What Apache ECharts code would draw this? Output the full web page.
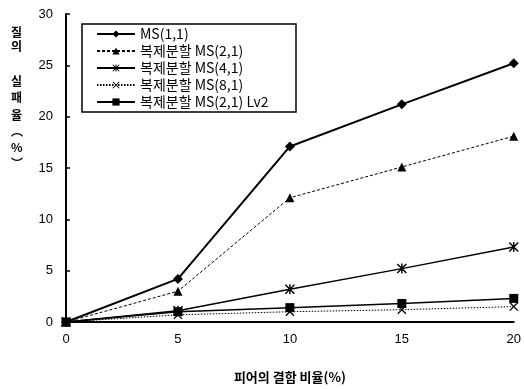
<!DOCTYPE html>
<html>
<head>
<meta charset="utf-8">
<script src="https://cdn.jsdelivr.net/npm/echarts@6/dist/echarts.min.js"></script>
<style>
html,body{margin:0;padding:0;background:#fff;}
#c{width:524px;height:389px;}
</style>
</head>
<body>
<div id="c"></div>
<script>
// ---- data ----
var xValues = [0, 5, 10, 15, 20];
var seriesNames = ['MS(1,1)', '복제분할 MS(2,1)', '복제분할 MS(4,1)', '복제분할 MS(8,1)', '복제분할 MS(2,1) Lv2'];
var ms11 = [0, 4.2, 17.1, 21.2, 25.2];
var ms21 = [0, 3.0, 12.1, 15.1, 18.1];
var ms41 = [0, 1.1, 3.2, 5.2, 7.3];
var ms81 = [0, 0.7, 1.0, 1.2, 1.5];
var ms21lv2 = [0, 1.0, 1.4, 1.8, 2.3];
var yTicks = [0, 5, 10, 15, 20, 25, 30];
var xTitle = '피어의 결함 비율(%)';
var yTitleChars = ['질', '의', '실', '패', '율', '︵', '%', '︶'];

// ---- build ----
function pairs(vals) { return xValues.map(function (x, i) { return [x, vals[i]]; }); }
var crossPath = 'path://M0,1 L1,0 L10,9 L9,10 Z M9,0 L10,1 L1,10 L0,9 Z';
var starPath = 'path://M0,1 L1,0 L10,9 L9,10 Z M9,0 L10,1 L1,10 L0,9 Z M4.3,0 L5.7,0 L5.7,10 L4.3,10 Z';

var styles = [
  { data: ms11, symbol: 'diamond', size: 10, width: 2, type: 'solid' },
  { data: ms21, symbol: 'triangle', size: 9, width: 1, type: [3, 2] },
  { data: ms41, symbol: starPath, size: 10, width: 1.5, type: 'solid' },
  { data: ms81, symbol: crossPath, size: 9, width: 1, type: [1.5, 1.5] },
  { data: ms21lv2, symbol: 'rect', size: 9, width: 1.5, type: 'solid' }
];

var series = styles.map(function (s, i) {
  return {
    name: seriesNames[i],
    type: 'line',
    data: pairs(s.data),
    symbol: s.symbol,
    symbolSize: s.size,
    showAllSymbol: true,
    z: 10 - i,
    lineStyle: { color: '#000', width: s.width, type: s.type },
    itemStyle: { color: '#000', borderColor: '#000', borderWidth: 0 },
    animation: false
  };
});

// y-axis title characters positions (pixel layout)
var yTitleY = [33, 47, 82, 98, 116, 132, 148, 164];
var graphics = yTitleChars.map(function (ch, i) {
  return {
    type: 'text', x: 11, y: yTitleY[i] - 7,
    style: { text: ch, fill: '#000', font: 'bold 12px "Noto Sans CJK KR", sans-serif' }
  };
});
// legend frame
graphics.push({
  type: 'rect', z: 100,
  shape: { x: 82, y: 24, width: 214, height: 88 },
  style: { fill: 'none', stroke: '#000', lineWidth: 1.5 }
});

var chart = echarts.init(document.getElementById('c'), null, { renderer: 'canvas' });
chart.setOption({
  backgroundColor: '#fff',
  animation: false,
  grid: { left: 66, right: 10, top: 14, bottom: 61, containLabel: false },
  xAxis: {
    type: 'value', min: 0, max: 20, interval: 5,
    axisLine: { show: true, onZero: false, lineStyle: { color: '#000', width: 2 } },
    axisTick: { show: false },
    splitLine: { show: false },
    axisLabel: { color: '#000', fontSize: 13, margin: 11, fontFamily: 'Liberation Sans, Arial, sans-serif' },
    name: xTitle,
    nameLocation: 'middle',
    nameGap: 49,
    nameTextStyle: { color: '#000', fontSize: 13, fontWeight: 'bold', verticalAlign: 'top', fontFamily: '"Noto Sans CJK KR", sans-serif' }
  },
  yAxis: {
    type: 'value', min: 0, max: 30, interval: 5,
    axisLine: { show: true, lineStyle: { color: '#000', width: 2 } },
    axisTick: { show: true, inside: true, length: 4, lineStyle: { color: '#000', width: 1.5 } },
    splitLine: { show: false },
    axisLabel: { color: '#000', fontSize: 13, margin: 13, fontFamily: 'Liberation Sans, Arial, sans-serif',
      formatter: function (v) { return yTicks.indexOf(v) >= 0 ? String(v) : ''; } }
  },
  legend: {
    orient: 'vertical',
    left: 82, top: 24,
    data: seriesNames,
    borderWidth: 0,
    padding: [3, 10, 3, 14],
    itemGap: 3,
    itemWidth: 38, itemHeight: 9,
    textStyle: { color: '#000', fontSize: 14, lineHeight: 14, fontFamily: '"Noto Sans CJK KR", sans-serif' },
    selectedMode: false
  },
  graphic: graphics,
  series: series
});
</script>
</body>
</html>
